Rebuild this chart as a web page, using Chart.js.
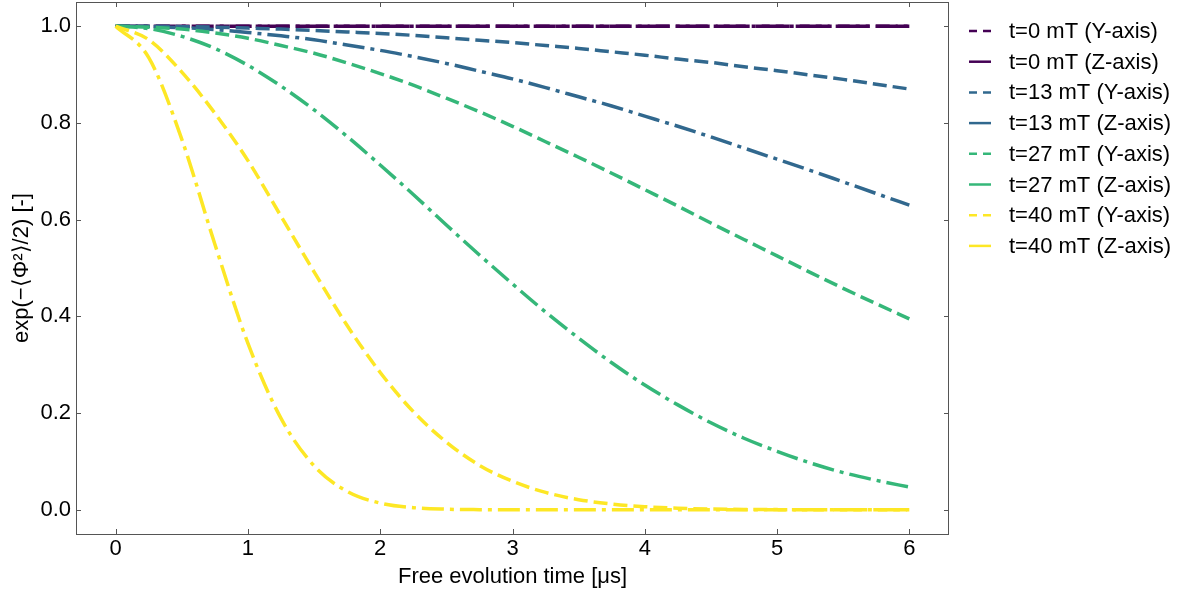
<!DOCTYPE html>
<html>
<head>
<meta charset="utf-8">
<script src="https://cdn.jsdelivr.net/npm/chart.js@4"></script>
<style>
    html, body { margin: 0; padding: 0; background: #ffffff; }
    #wrap { width: 1194px; height: 593px; }
</style>
</head>
<body>
<div id="wrap"><canvas id="decayChart" width="1194" height="593"></canvas></div>
<script>
// free evolution time [us]
const timeUs = [0, 0.25, 0.5, 0.75, 1, 1.25, 1.5, 1.75, 2, 2.25, 2.5, 2.75, 3,
    3.25, 3.5, 3.75, 4, 4.25, 4.5, 4.75, 5, 5.25, 5.5, 5.75, 6];

// coherence exp(-<phi^2>/2)
const t0Y = [1, 1, 1, 1, 1, 1, 1, 1, 1, 1, 1, 1, 1, 1, 1, 1, 1, 1, 1, 1, 1, 1, 1, 1, 1];
const t0Z = [1, 1, 1, 1, 1, 1, 1, 1, 1, 1, 1, 1, 1, 1, 1, 1, 1, 1, 1, 1, 1, 1, 1, 1, 1];
const t13Y = [1.000, 1.000, 0.999, 0.998, 0.996, 0.994, 0.991, 0.988, 0.985, 0.981, 0.976, 0.971, 0.966,
    0.960, 0.954, 0.947, 0.940, 0.932, 0.925, 0.916, 0.908, 0.899, 0.890, 0.880, 0.870];
const t13Z = [1.000, 0.999, 0.997, 0.993, 0.987, 0.980, 0.972, 0.961, 0.950, 0.937, 0.923, 0.907, 0.891,
    0.873, 0.854, 0.835, 0.814, 0.793, 0.771, 0.748, 0.725, 0.702, 0.678, 0.654, 0.630];
const t27Y = [1.000, 0.998, 0.994, 0.986, 0.975, 0.960, 0.944, 0.924, 0.902, 0.878, 0.851, 0.823, 0.793,
    0.761, 0.729, 0.696, 0.662, 0.628, 0.593, 0.559, 0.525, 0.491, 0.458, 0.426, 0.395];
const t27Z = [1.000, 0.995, 0.979, 0.954, 0.919, 0.876, 0.827, 0.772, 0.713, 0.652, 0.589, 0.527, 0.467,
    0.409, 0.355, 0.304, 0.258, 0.217, 0.180, 0.148, 0.121, 0.097, 0.077, 0.061, 0.047];
const t40Y = [1.000, 0.972, 0.905, 0.820, 0.722, 0.607, 0.492, 0.381, 0.284, 0.203, 0.140, 0.092, 0.059,
    0.036, 0.021, 0.012, 0.0065, 0.0034, 0.0017, 0.0008, 0.0004, 0.0002, 0.0001, 0, 0];
const t40Z = [1.000, 0.935, 0.766, 0.549, 0.344, 0.189, 0.091, 0.038, 0.014, 0.0045, 0.0013, 0.0003, 0,
    0, 0, 0, 0, 0, 0, 0, 0, 0, 0, 0, 0];

const seriesLabels = ['t=0 mT (Y-axis)', 't=0 mT (Z-axis)', 't=13 mT (Y-axis)', 't=13 mT (Z-axis)',
    't=27 mT (Y-axis)', 't=27 mT (Z-axis)', 't=40 mT (Y-axis)', 't=40 mT (Z-axis)'];
const seriesValues = [t0Y, t0Z, t13Y, t13Z, t27Y, t27Z, t40Y, t40Z];

const xTicks = [0, 1, 2, 3, 4, 5, 6];
const yTicks = [0.0, 0.2, 0.4, 0.6, 0.8, 1.0];

// viridis, one colour per field, Y dashed / Z dash-dot
const fieldColors = ['#440154', '#31688e', '#35b779', '#fde725'];
const dashY = [14, 6];
const dashZ = [22, 6, 4, 6];
const FONT = { family: "'Liberation Sans', Arial, sans-serif", size: 22 };
const FRAME = '#555555';

const datasets = seriesValues.map((vals, i) => ({
    label: seriesLabels[i],
    data: vals.map((v, k) => ({ x: timeUs[k], y: v })),
    borderColor: fieldColors[Math.floor(i / 2)],
    borderWidth: 3.5,
    borderDash: i % 2 === 0 ? dashY : dashZ,
    pointRadius: 0,
    cubicInterpolationMode: 'monotone',
    fill: false,
    order: seriesValues.length - i
}));

const frameAndLegend = {
    id: 'frameAndLegend',
    afterDraw(chart) {
        const { ctx, chartArea: a, scales } = chart;
        ctx.save();
        ctx.strokeStyle = FRAME;
        ctx.lineWidth = 1;
        ctx.strokeRect(a.left + 0.5, a.top + 0.5, a.right - a.left - 1, a.bottom - a.top);

        // inward ticks on all four sides
        const len = 5;
        ctx.beginPath();
        xTicks.forEach(v => {
            const px = Math.round(scales.x.getPixelForValue(v)) + 0.5;
            ctx.moveTo(px, a.bottom); ctx.lineTo(px, a.bottom - len);
            ctx.moveTo(px, a.top); ctx.lineTo(px, a.top + len);
        });
        yTicks.forEach(v => {
            const py = Math.round(scales.y.getPixelForValue(v)) + 0.5;
            ctx.moveTo(a.left, py); ctx.lineTo(a.left + len, py);
            ctx.moveTo(a.right, py); ctx.lineTo(a.right - len, py);
        });
        ctx.stroke();

        // legend outside the axes, to the right
        ctx.font = `${FONT.size}px ${FONT.family}`;
        ctx.textBaseline = 'middle';
        ctx.fillStyle = '#000000';
        chart.data.datasets.forEach((ds, i) => {
            const y = 31 + i * 30.7;
            ctx.beginPath();
            ctx.strokeStyle = ds.borderColor;
            ctx.lineWidth = 2.5;
            ctx.setLineDash(i % 2 === 0 ? [8, 6] : []);
            ctx.moveTo(969, y);
            ctx.lineTo(991, y);
            ctx.stroke();
            ctx.fillText(ds.label, 1009, y + 1);
        });
        ctx.restore();
    }
};

new Chart(document.getElementById('decayChart').getContext('2d'), {
    type: 'line',
    data: { datasets },
    options: {
        responsive: false,
        animation: false,
        layout: { padding: { left: 0, right: 245, top: 2, bottom: 0 } },
        plugins: {
            legend: { display: false },
            tooltip: { enabled: false }
        },
        scales: {
            x: {
                type: 'linear',
                min: -0.3,
                max: 6.3,
                afterBuildTicks: s => { s.ticks = xTicks.map(v => ({ value: v })); },
                afterFit: s => { s.height = 59; s.paddingLeft = 0; s.paddingRight = 0; },
                grid: { display: false, drawTicks: false },
                border: { display: false },
                ticks: {
                    font: FONT,
                    color: '#000000',
                    padding: 2,
                    maxRotation: 0,
                    callback: v => String(v)
                },
                title: {
                    display: true,
                    text: 'Free evolution time [μs]',
                    font: FONT,
                    color: '#000000',
                    padding: { top: 0, bottom: 3 }
                }
            },
            y: {
                type: 'linear',
                min: -0.05,
                max: 1.05,
                afterBuildTicks: s => { s.ticks = yTicks.map(v => ({ value: v })); },
                afterFit: s => { s.width = 76; s.paddingTop = 0; s.paddingBottom = 0; },
                grid: { display: false, drawTicks: false },
                border: { display: false },
                ticks: {
                    font: FONT,
                    color: '#000000',
                    padding: 5,
                    callback: v => Number(v).toFixed(1)
                },
                title: {
                    display: true,
                    text: 'exp(−⟨Φ²⟩/2) [-]',
                    font: FONT,
                    color: '#000000',
                    padding: { top: 9, bottom: 0 }
                }
            }
        }
    },
    plugins: [frameAndLegend]
});
</script>
</body>
</html>
